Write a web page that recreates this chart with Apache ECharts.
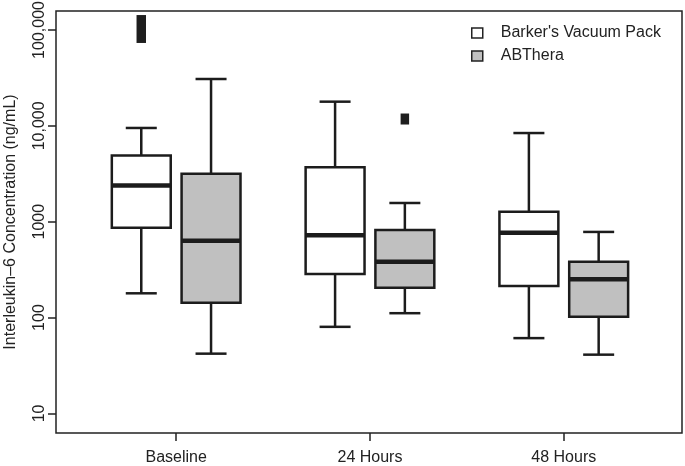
<!DOCTYPE html>
<html>
<head>
<meta charset="utf-8">
<script src="https://cdn.jsdelivr.net/npm/echarts@6/dist/echarts.min.js"></script>
<style>html,body{margin:0;padding:0;background:#fff}#c{width:685px;height:466px}</style>
</head>
<body>
<div id="c"></div>
<script>
// ---- data (IL-6 concentration, ng/mL) ----
var categories = ['Baseline', '24 Hours', '48 Hours'];
var seriesNames = ["Barker's Vacuum Pack", 'ABThera'];
// [lower whisker, Q1, median, Q3, upper whisker] per category
var barkerBoxes = [
  [179, 865, 2380, 4890, 9500],
  [80, 285, 721, 3690, 17870],
  [61, 213, 767, 1271, 8410]
];
var abtheraBoxes = [
  [42, 143, 634, 3170, 30800],
  [111, 205, 383, 818, 1567],
  [41, 102, 251, 383, 782]
];
// outliers: [category index, value]
var barkerOutliers = [[0, 121000], [0, 86600]];
var abtheraOutliers = [[1, 11780]];
var yTickValues = [10, 100, 1000, 10000, 100000];
var yTickLabels = ['10', '100', '1000', '10,000', '100,000'];

// ---- chart ----
var FONT = "'Liberation Sans', Arial, Helvetica, sans-serif";
var OFFSET = 0.18, BOX_HALF = 0.152, CAP_HALF = 0.08;
var LINE = '#1c1c1c';
var fills = ['#ffffff', '#c0c0c0'];
var lg = Math.log10;

function boxData(boxes, sign) {
  return boxes.map(function (b, i) {
    return [i + 1 + sign * OFFSET].concat(b.map(lg));
  });
}
function outlierData(list, sign) {
  return list.map(function (o) { return [o[0] + 1 + sign * OFFSET, lg(o[1])]; });
}

function makeRender(fill) {
  return function (params, api) {
    var x = api.value(0);
    var lo = api.value(1), q1 = api.value(2), med = api.value(3), q3 = api.value(4), hi = api.value(5);
    var pLo = api.coord([x, lo]), pQ1 = api.coord([x, q1]), pMed = api.coord([x, med]);
    var pQ3 = api.coord([x, q3]), pHi = api.coord([x, hi]);
    var bl = api.coord([x - BOX_HALF, q1])[0], br = api.coord([x + BOX_HALF, q1])[0];
    var cl = api.coord([x - CAP_HALF, q1])[0], cr = api.coord([x + CAP_HALF, q1])[0];
    var ls = { stroke: LINE, lineWidth: 2.5 };
    return {
      type: 'group',
      children: [
        { type: 'line', shape: { x1: pHi[0], y1: pHi[1], x2: pQ3[0], y2: pQ3[1] }, style: ls },
        { type: 'line', shape: { x1: pLo[0], y1: pLo[1], x2: pQ1[0], y2: pQ1[1] }, style: ls },
        { type: 'line', shape: { x1: cl, y1: pHi[1], x2: cr, y2: pHi[1] }, style: ls },
        { type: 'line', shape: { x1: cl, y1: pLo[1], x2: cr, y2: pLo[1] }, style: ls },
        { type: 'rect', shape: { x: bl, y: pQ3[1], width: br - bl, height: pQ1[1] - pQ3[1] },
          style: { fill: fill, stroke: LINE, lineWidth: 2.5 } },
        { type: 'line', shape: { x1: bl, y1: pMed[1], x2: br, y2: pMed[1] }, style: { stroke: LINE, lineWidth: 4.5 } }
      ]
    };
  };
}

var chart = echarts.init(document.getElementById('c'), null, { renderer: 'canvas' });
chart.setOption({
  animation: false,
  backgroundColor: '#fff',
  textStyle: { fontFamily: FONT },
  grid: { left: 56, right: 3, top: 11, bottom: 33, containLabel: false, outerBoundsMode: 'none',
    show: true, borderColor: '#222', borderWidth: 1.5, backgroundColor: 'transparent' },
  legend: {
    left: 471, top: 25, orient: 'vertical', padding: 0,
    itemWidth: 11, itemHeight: 10, itemGap: 7,
    textStyle: { fontSize: 16, color: '#222', fontFamily: FONT, lineHeight: 16, padding: [0, 0, 0, 13] },
    data: [
      { name: seriesNames[0], icon: 'rect', itemStyle: { color: fills[0], borderColor: '#222', borderWidth: 1.5 } },
      { name: seriesNames[1], icon: 'rect', itemStyle: { color: fills[1], borderColor: '#222', borderWidth: 1.5 } }
    ]
  },
  xAxis: {
    type: 'value', min: 0.38, max: 3.61,
    axisLine: { show: false },
    splitLine: { show: false },
    axisTick: { show: true, length: 8, customValues: [1, 2, 3], lineStyle: { color: '#222', width: 1.5 } },
    axisLabel: {
      customValues: [1, 2, 3], margin: 17, fontSize: 16, color: '#222', fontFamily: FONT,
      formatter: function (v) { return categories[Math.round(v) - 1] || ''; }
    }
  },
  yAxis: {
    type: 'value', min: 0.7955, max: 5.198,
    name: 'Interleukin\u20136 Concentration (ng/mL)',
    nameLocation: 'middle', nameGap: 37, nameRotate: 90,
    nameTextStyle: { fontSize: 16, color: '#222', fontFamily: FONT },
    axisLine: { show: false },
    splitLine: { show: false },
    axisTick: { show: true, length: 8, customValues: yTickValues.map(lg), lineStyle: { color: '#222', width: 1.5 } },
    axisLabel: {
      customValues: yTickValues.map(lg), rotate: 90, margin: 8, fontSize: 16, color: '#222', fontFamily: FONT,
      formatter: function (v) {
        var i = yTickValues.map(lg).findIndex(function (t) { return Math.abs(t - v) < 1e-6; });
        return i >= 0 ? yTickLabels[i] : '';
      }
    }
  },
  series: [
    { name: seriesNames[0], type: 'custom', renderItem: makeRender(fills[0]), data: boxData(barkerBoxes, -1),
      itemStyle: { color: fills[0], borderColor: '#222' }, encode: { x: 0, y: [1, 2, 3, 4, 5] }, clip: true },
    { name: seriesNames[1], type: 'custom', renderItem: makeRender(fills[1]), data: boxData(abtheraBoxes, 1),
      itemStyle: { color: fills[1], borderColor: '#222' }, encode: { x: 0, y: [1, 2, 3, 4, 5] }, clip: true },
    { name: seriesNames[0] + ' outliers', type: 'scatter', data: outlierData(barkerOutliers, -1),
      symbol: 'rect', symbolSize: [9.5, 14], itemStyle: { color: '#1e1e1e', opacity: 1 }, z: 5 },
    { name: seriesNames[1] + ' outliers', type: 'scatter', data: outlierData(abtheraOutliers, 1),
      symbol: 'rect', symbolSize: [8.5, 11], itemStyle: { color: '#1e1e1e', opacity: 1 }, z: 5 }
  ]
});
</script>
</body>
</html>
